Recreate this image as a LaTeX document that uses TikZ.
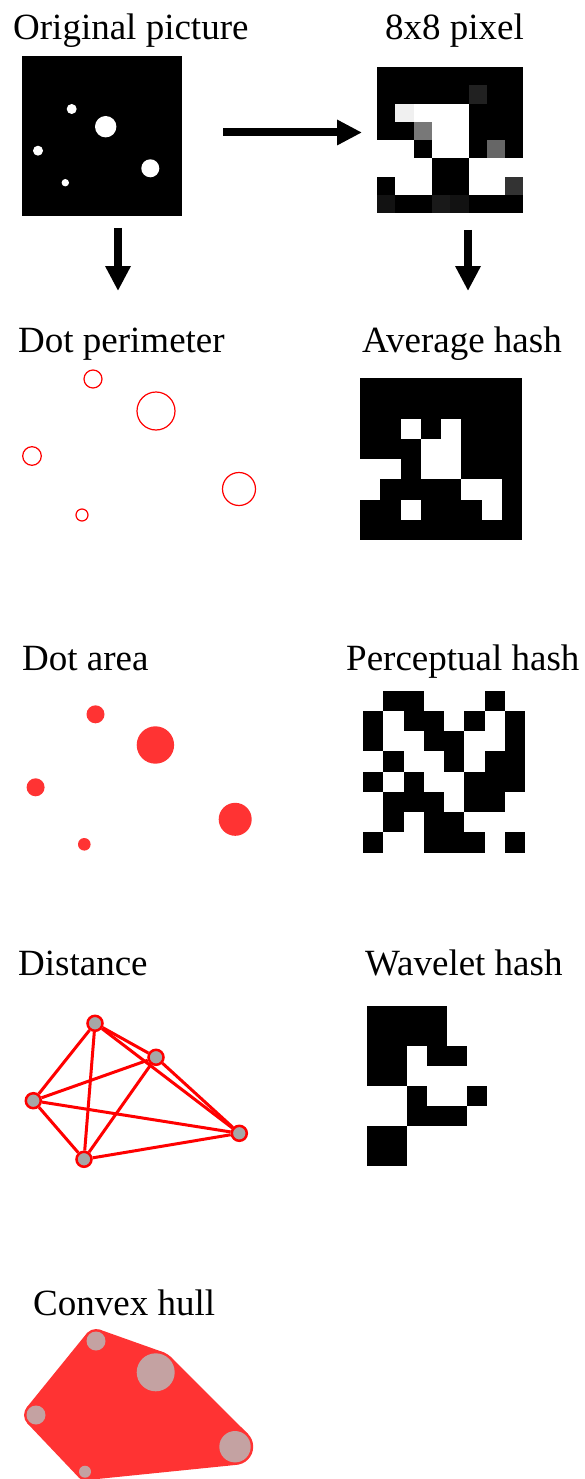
\documentclass[tikz,border=0pt]{standalone}
\usepackage{fontspec}
\setmainfont{Liberation Serif}
\usetikzlibrary{arrows.meta}
\definecolor{dotred}{RGB}{255,51,51}
\definecolor{hullgray}{RGB}{196,162,162}
\definecolor{nodegray}{RGB}{166,166,166}
\begin{document}
\begin{tikzpicture}[x=1pt,y=-1pt,
  lbl/.style={anchor=base west, inner sep=0pt, font=\fontsize{37}{40}\selectfont},
  bigarrow/.style={line width=8pt, -{Triangle[width=24pt,length=25pt]}},
  sq/.style={anchor=north west, inner sep=0pt, outer sep=0pt, minimum size=#1},
  perim/.style={draw=red, line width=1.2pt},
  dnode/.style={circle, fill=nodegray, draw=red, line width=2.5pt, minimum size=15pt, inner sep=0pt},
  dedge/.style={red, line width=3pt}]
\useasboundingbox (0,0) rectangle (584,1479);
% labels
\node[lbl] (t1) at (13,40) {Original picture};
\node[lbl] (t2) at (385,40) {8x8 pixel};
\node[lbl] (t3) at (18,352) {Dot perimeter};
\node[lbl] (t4) at (362,352) {Average hash};
\node[lbl] (t5) at (22,670) {Dot area};
\node[lbl] (t6) at (346,670) {Perceptual hash};
\node[lbl] (t7) at (18,975) {Distance};
\node[lbl] (t8) at (365,975) {Wavelet hash};
\node[lbl] (t9) at (33,1315) {Convex hull};
% original picture
\node[sq=160pt, fill=black] (orig) at (22,56) {};
\fill[white] (71.7,109) circle (5pt);
\fill[white] (105.7,126.7) circle (10.7pt);
\fill[white] (38,150.7) circle (5pt);
\fill[white] (150.3,168.3) circle (9pt);
\fill[white] (65.3,182.7) circle (3.7pt);
% 8x8 pixel
\node[sq=146.4pt, fill=black] (pix) at (377,67) {};
\foreach \c/\r/\g in {5/1/13,
  1/2/94, 2/2/100, 3/2/100, 4/2/100,
  2/3/47, 3/3/100, 4/3/100,
  0/4/100, 1/4/100, 3/4/100, 4/4/100, 6/4/40,
  0/5/100, 1/5/100, 2/5/100, 5/5/100, 6/5/100, 7/5/100,
  1/6/100, 2/6/100, 5/6/100, 6/6/100, 7/6/20,
  0/7/7, 3/7/10, 4/7/7}
  \fill[white!\g!black] (377+\c*18.3,67+\r*18.3) rectangle ++(18.3,18.3);
% arrows
\coordinate (aL1) at (118,228);
\coordinate (aL2) at (118,291);
\coordinate (aT1) at (223,132.5);
\coordinate (aT2) at (362,132.5);
\coordinate (aR1) at (468,230);
\coordinate (aR2) at (468,291);
\draw[bigarrow] (aL1) -- (aL2);
\draw[bigarrow] (aT1) -- (aT2);
\draw[bigarrow] (aR1) -- (aR2);
% dot perimeter
\draw[perim] (93,379) circle (9pt);
\draw[perim] (156,411) circle (19pt);
\draw[perim] (32,456) circle (9.3pt);
\draw[perim] (239,489) circle (16.5pt);
\draw[perim] (82,515) circle (6pt);
% average hash
\node[sq=162pt, fill=black] (avg) at (360,378) {};
\foreach \c/\r in {2/2,4/2,3/3,4/3,0/4,1/4,3/4,4/4,0/5,5/5,6/5,2/6,6/6}
  \fill[white] (360+\c*20.25,378+\r*20.25) rectangle ++(20.25,20.25);
% dot area
\fill[dotred] (95.5,714.3) circle (9pt);
\fill[dotred] (155.4,745) circle (18.7pt);
\fill[dotred] (35.6,787.3) circle (9pt);
\fill[dotred] (235.2,819.3) circle (16.5pt);
\fill[dotred] (84.3,844.3) circle (6.3pt);
% perceptual hash
\node[sq=162pt] (phash) at (363,690.7) {};
\foreach \c/\r in {1/0,2/0,6/0,
  0/1,2/1,3/1,5/1,7/1,
  0/2,3/2,4/2,7/2,
  1/3,4/3,6/3,7/3,
  0/4,2/4,5/4,6/4,7/4,
  1/5,2/5,3/5,5/5,6/5,
  1/6,3/6,4/6,
  0/7,3/7,4/7,5/7,7/7}
  \fill[black] (363+\c*20.25,690.7+\r*20.25) rectangle ++(20.25,20.25);
% distance
\node[dnode] (dA) at (95,1023.3) {};
\node[dnode] (dB) at (156,1057.3) {};
\node[dnode] (dC) at (33.3,1100.7) {};
\node[dnode] (dD) at (84,1159.3) {};
\node[dnode] (dE) at (239.3,1133.3) {};
\draw[dedge] (dA) -- (dB);
\draw[dedge] (dA) -- (dC);
\draw[dedge] (dA) -- (dD);
\draw[dedge] (dA) -- (dE);
\draw[dedge] (dB) -- (dC);
\draw[dedge] (dB) -- (dD);
\draw[dedge] (dB) -- (dE);
\draw[dedge] (dC) -- (dD);
\draw[dedge] (dC) -- (dE);
\draw[dedge] (dD) -- (dE);
% wavelet hash
\node[sq=160pt] (whash) at (367,1006) {};
\foreach \c/\r in {0/0,1/0,2/0,3/0,
  0/1,1/1,2/1,3/1,
  0/2,1/2,3/2,4/2,
  0/3,1/3,
  2/4,5/4,
  2/5,3/5,4/5,
  0/6,1/6,
  0/7,1/7}
  \fill[black] (367+\c*20,1006+\r*20) rectangle ++(20,20);
% convex hull
\filldraw[dotred, line width=5pt, line join=round]
  (99.18,1332.05) -- (162.06,1354.4) -- (169.11,1358.84) -- (246.08,1435.58)
  -- (236.59,1462.32) -- (85.61,1477.67) -- (80.65,1475.83) -- (29.11,1421.54)
  -- (28.62,1409.02) -- (88.62,1335.02) -- cycle;
\fill[dotred] (96,1341) circle (12pt);
\fill[dotred] (155.7,1372.3) circle (21.5pt);
\fill[dotred] (36,1415) circle (12pt);
\fill[dotred] (235,1446.7) circle (18.2pt);
\fill[dotred] (85,1471.7) circle (8.5pt);
\fill[hullgray] (96,1341) circle (9.5pt);
\fill[hullgray] (155.7,1372.3) circle (19pt);
\fill[hullgray] (36,1415) circle (9.5pt);
\fill[hullgray] (235,1446.7) circle (15.7pt);
\fill[hullgray] (85,1471.7) circle (6pt);
\end{tikzpicture}
\end{document}
